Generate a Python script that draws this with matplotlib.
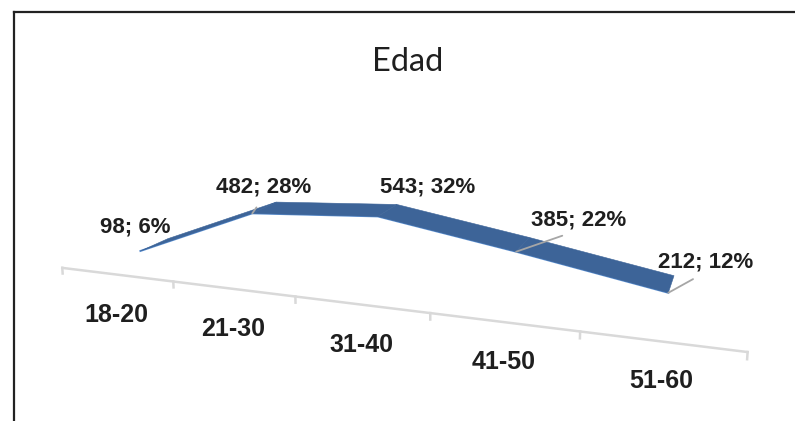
import numpy as np
import matplotlib
matplotlib.use("Agg")
import matplotlib.pyplot as plt
from matplotlib.lines import Line2D
from mpl_toolkits.mplot3d import proj3d

categories = ["18-20", "21-30", "31-40", "41-50", "51-60"]
counts = [98, 482, 543, 385, 212]
percents = [6, 28, 32, 22, 12]

W, H = 795, 421
fig = plt.figure(figsize=(W / 100, H / 100), dpi=100)
ax = fig.add_axes([0, 0, 1, 1], projection="3d")

# camera that imitates the excel 3d line view
ax.set_xlim(0, len(categories))
ax.set_ylim(0, 1)
ax.set_zlim(0, np.exp(7.5690))
ax.view_init(elev=10.6624, azim=-68.5524, roll=0.2770)
ax.set_proj_type("persp", focal_length=float(np.exp(-1.3940)))
ax.set_box_aspect((1, float(np.exp(-2.6329)), float(np.exp(-0.9377))))
ax.set_axis_off()

# place the square 3d axes so its 2d space lands on the right pixels
s, tx, ty = 4112.632, 369.96, 260.71
x0, y0, w0, h0 = ax.viewLim.bounds
ax.set_position([(tx + s * x0) / W, (ty + s * y0) / H, s * w0 / W, s * h0 / H])

y_front, y_back = 0.9068, 2.0092
M = ax.get_proj()


def to2d(x, y, z):
    u, v, _ = proj3d.proj_transform(np.atleast_1d(x), np.atleast_1d(y), np.atleast_1d(z), M)
    return float(u[0]), float(v[0])


xc = np.arange(len(categories)) + 0.5
xb = np.arange(len(categories) + 1)
cnt = np.array(counts, float)

# ribbon
Xg = np.vstack([xc, xc])
Yg = np.vstack([np.full(len(xc), y_front), np.full(len(xc), y_back)])
Zg = np.vstack([cnt, cnt])
ax.plot_surface(Xg, Yg, Zg, color="#3D6498", edgecolor="#3D6498", linewidth=0.4,
                shade=False, antialiased=True)
ax.plot(xc, np.full(len(xc), y_front), cnt, color="#5B8FD0", lw=1.4)

# category axis on the floor
ax.plot([xb[0], xb[-1]], [0, 0], [0, 0], color="#D9D9D9", lw=1.8, clip_on=False)
for xt in xb:
    ax.plot([xt, xt], [0, 0], [0, -45], color="#D9D9D9", lw=1.8, clip_on=False)

for i, cat in enumerate(categories):
    ax.annotate(cat, xy=to2d(xc[i], 0, 0), xytext=(0, -40), textcoords="offset pixels",
                ha="center", va="center", fontsize=18, fontweight="bold",
                family="Liberation Sans", color="#1F1F1F", annotation_clip=False)

label_offsets = [(-5, 24), (11, 26), (50, 29), (62, 32), (37, 31)]
leader = [False, True, False, True, True]
for i in range(len(categories)):
    arrow = None
    if leader[i]:
        arrow = dict(arrowstyle="-", color="#A6A6A6", lw=1.3, shrinkA=6, shrinkB=0, relpos=(0.5, 0))
    ax.annotate(f"{counts[i]}; {percents[i]}%", xy=to2d(xc[i], y_front, cnt[i]),
                xytext=label_offsets[i], textcoords="offset pixels",
                ha="center", va="center", fontsize=16, fontweight="bold",
                family="Liberation Sans", color="#1F1F1F", arrowprops=arrow,
                annotation_clip=False)

fig.text(408 / W, 1 - 62 / H, "Edad", ha="center", va="center", fontsize=23.5,
         family="Lato", color="#1F1F1F")

# chart frame (only top and left show in the crop)
fig.add_artist(Line2D([14 / W, 14 / W], [0, 1 - 12 / H], color="#222222", lw=1.6))
fig.add_artist(Line2D([14 / W, 1], [1 - 12 / H, 1 - 12 / H], color="#222222", lw=1.6))

fig.savefig("out.png", dpi=100)
